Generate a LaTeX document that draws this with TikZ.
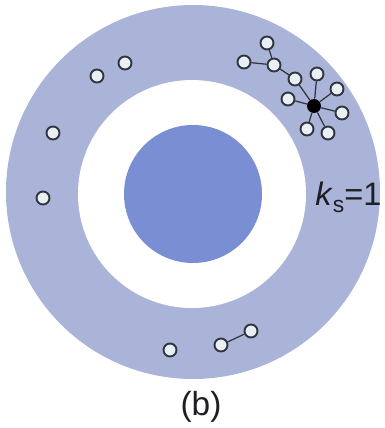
\documentclass[tikz,border=0pt]{standalone}
\usepackage{fontspec}
\setmainfont{Liberation Sans}
\usetikzlibrary{positioning}
\definecolor{ringblue}{RGB}{170,180,216}
\definecolor{coreblue}{RGB}{122,142,212}
\definecolor{nodefill}{RGB}{232,240,246}
\definecolor{nodedraw}{RGB}{50,52,62}
\definecolor{txtdark}{RGB}{30,30,36}
\tikzset{
  vtx/.style={circle, draw=nodedraw, fill=nodefill, line width=1.1pt,
    minimum size=0.26cm, inner sep=0pt},
  hubnode/.style={circle, fill=black, minimum size=0.28cm, inner sep=0pt},
  link/.style={line width=0.7pt, color=nodedraw},
  lbl/.style={text=txtdark, inner sep=0pt}
}

\begin{document}
\begin{tikzpicture}[scale=0.02]
    \useasboundingbox (-193,192) rectangle (191,-236);
    % Shells
    \fill[ringblue] (0,0) circle (187);
    \fill[white] (-1,-2) circle (114);
    \fill[coreblue] (0,-2) circle (69);
    % Isolated nodes
    \node[vtx] (u1) at (-96,116) {};
    \node[vtx] (u2) at (-68,129) {};
    \node[vtx] (w1) at (-140,59) {};
    \node[vtx] (w2) at (-150,-6) {};
    \node[vtx] (d1) at (-23,-158) {};
    % Pair at the bottom
    \node[vtx] (d2) at (28,-153) {};
    \node[vtx] (d3) at (58,-139) {};
    \draw[link] (d2) -- (d3);
    % Star cluster
    \node[hubnode] (hub) at (121,86) {};
    \node[vtx] (ta) at (74,149) {};
    \node[vtx] (tb) at (51,130) {};
    \node[vtx] (tc) at (81,127) {};
    \node[vtx] (td) at (102,113) {};
    \node[vtx] (se) at (124,118) {};
    \node[vtx] (sf) at (144,103) {};
    \node[vtx] (sg) at (95,93) {};
    \node[vtx] (sh) at (149,79) {};
    \node[vtx] (si) at (114,63) {};
    \node[vtx] (sj) at (135,59) {};
    \draw[link] (tb) -- (tc);
    \draw[link] (ta) -- (tc);
    \draw[link] (tc) -- (td);
    \foreach \n in {td,se,sf,sg,sh,si,sj}
      \draw[link] (hub) -- (\n);
    % Labels
    \node[lbl, anchor=base west] (shell) at (122,-13)
      {\fontsize{18.5}{18}\selectfont\textit{k}\raisebox{-0.45ex}{\fontsize{13}{13}\selectfont s}=1};
    \node[lbl] (cap) at (8,-215) {\fontsize{19}{19}\selectfont (b)};
\end{tikzpicture}
\end{document}
